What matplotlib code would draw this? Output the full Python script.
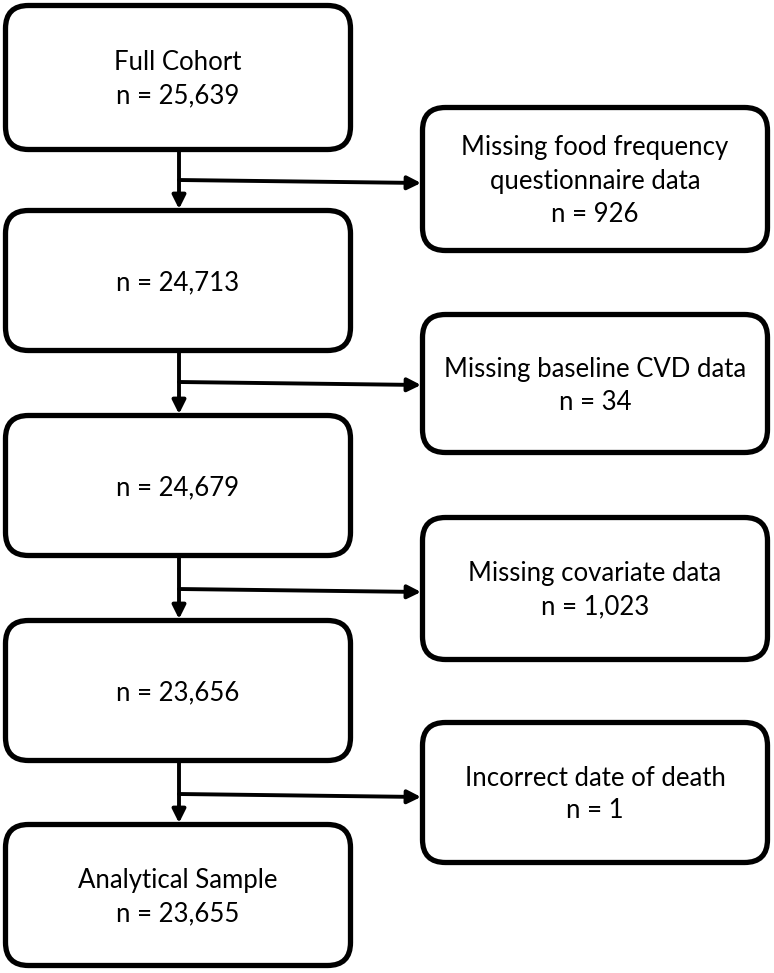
import matplotlib
matplotlib.use("Agg")
import matplotlib.pyplot as plt
from matplotlib.patches import FancyBboxPatch

# ---- data ----
main_labels = ["Full Cohort", "", "", "", "Analytical Sample"]
main_counts = [25639, 24713, 24679, 23656, 23655]
excl_labels = ["Missing food frequency\nquestionnaire data",
               "Missing baseline CVD data",
               "Missing covariate data",
               "Incorrect date of death"]
excl_counts = [926, 34, 1023, 1]

# ---- layout (pixels) ----
W, H = 774, 973
main_x0, main_x1 = 3, 353
main_tops = [3, 208, 413, 618, 822]
main_bots = [152, 353, 558, 763, 968]
excl_x0, excl_x1 = 420, 770
excl_tops = [105, 312, 515, 720]
excl_bots = [253, 455, 662, 865]
branch_y = [180, 382, 589, 794]
arrow_x = 179
line_gap = 33
font = "Lato"
fsize = 18.5
lw = 3.8

fig = plt.figure(figsize=(W / 100, H / 100), dpi=100)
ax = fig.add_axes([0, 0, 1, 1])
ax.set_xlim(0, W)
ax.set_ylim(H, 0)
ax.axis("off")


def box(x0, x1, y0, y1, lines):
    p = FancyBboxPatch((x0 + 2.5, y0 + 2.5), (x1 - x0) - 5, (y1 - y0) - 5,
                       boxstyle="round,pad=0,rounding_size=23",
                       fc="white", ec="black", lw=lw)
    ax.add_patch(p)
    cx = (x0 + x1) / 2
    cy = (y0 + y1) / 2 + 2
    k = len(lines)
    for i, t in enumerate(lines):
        ax.text(cx, cy + line_gap * (i - (k - 1) / 2), t, ha="center",
                va="center", fontsize=fsize, family=font, color="black")


for lab, n, t, b in zip(main_labels, main_counts, main_tops, main_bots):
    lines = ([lab] if lab else []) + [f"n = {n:,}"]
    box(main_x0, main_x1, t, b, lines)

for lab, n, t, b in zip(excl_labels, excl_counts, excl_tops, excl_bots):
    lines = lab.split("\n") + [f"n = {n:,}"]
    box(excl_x0, excl_x1, t, b, lines)

arrow_kw = dict(arrowstyle="-|>,head_length=0.8,head_width=0.4",
                lw=2.8, color="black", shrinkA=0, shrinkB=0)

for i, by in enumerate(branch_y):
    # vertical arrow
    ax.annotate("", xy=(arrow_x, main_tops[i + 1] + 1), xytext=(arrow_x, main_bots[i] - 1),
                arrowprops=arrow_kw)
    # horizontal arrow
    ax.annotate("", xy=(excl_x0 + 1, by + 3), xytext=(arrow_x, by),
                arrowprops=arrow_kw)

fig.savefig("out.png", dpi=100, facecolor="white")
